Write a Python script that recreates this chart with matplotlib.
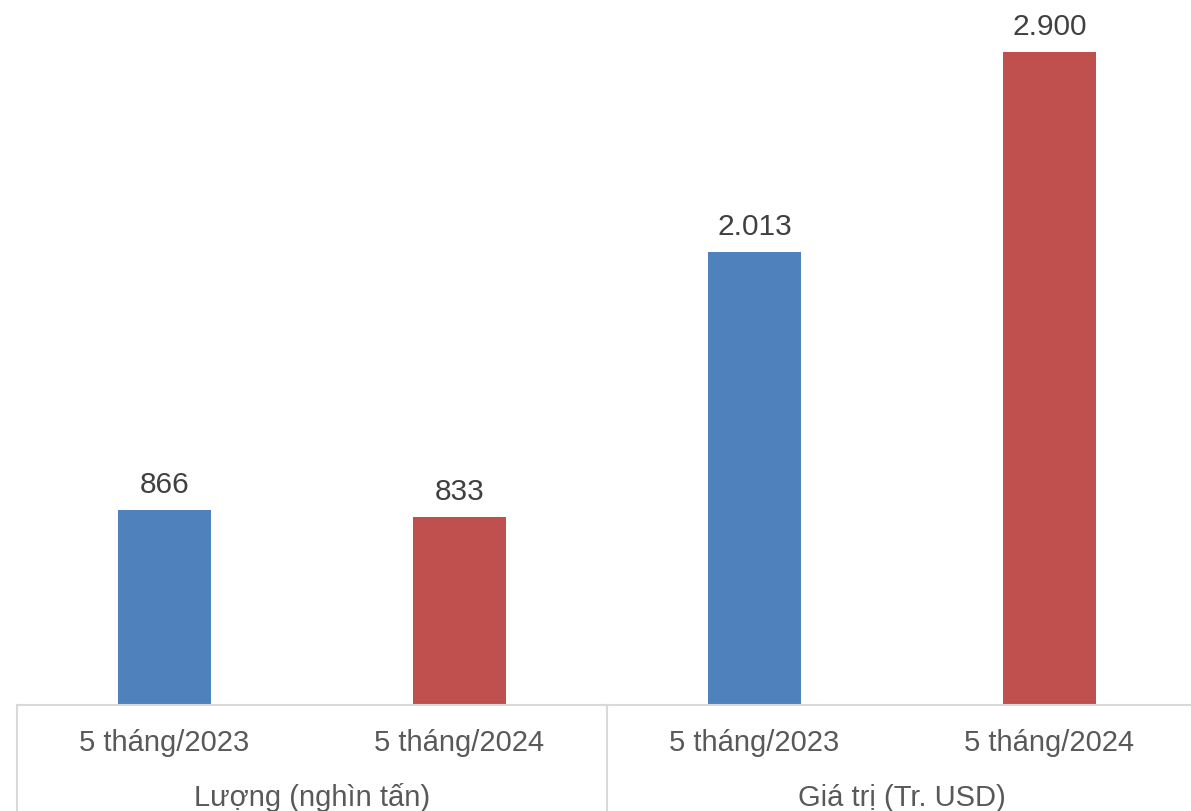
import matplotlib
matplotlib.use("Agg")
import matplotlib.pyplot as plt
import matplotlib.transforms as mtransforms
import numpy as np

plt.rcParams['font.family'] = ['Liberation Sans', 'DejaVu Sans']

periods = ["5 tháng/2023", "5 tháng/2024", "5 tháng/2023", "5 tháng/2024"]
groups = ["Lượng (nghìn tấn)", "Giá trị (Tr. USD)"]
values = [866, 833, 2013, 2900]
value_labels = ["866", "833", "2.013", "2.900"]
colors = ["#4F81BD", "#C0504D", "#4F81BD", "#C0504D"]

fig = plt.figure(figsize=(11.91, 8.11), dpi=100)
ax = fig.add_axes([17 / 1191, 106 / 811, 1180 / 1191, 705 / 811])

x = np.arange(len(values))
bars = ax.bar(x, values, width=0.315, color=colors)
ax.set_xlim(-0.5, 3.5)
ax.set_ylim(0, 3131)

for b, lab in zip(bars, value_labels):
    ax.annotate(lab, (b.get_x() + b.get_width() / 2, b.get_height()),
                xytext=(0, 8), textcoords="offset points",
                ha="center", va="bottom", fontsize=21.5, color="#404040")

for s in ["top", "right", "left"]:
    ax.spines[s].set_visible(False)
ax.spines["bottom"].set_color("#D9D9D9")
ax.spines["bottom"].set_linewidth(1.5)
ax.set_yticks([])
ax.set_xticks([])

trans = mtransforms.blended_transform_factory(ax.transData, ax.transAxes)
yb = -106 / 705
for xs in [-0.5, 1.5, 3.5]:
    ax.plot([xs, xs], [0, yb], transform=trans, color="#D9D9D9",
            lw=1.5, clip_on=False)

for xi, p in zip(x, periods):
    ax.text(xi, -38 / 705, p, transform=trans, ha="center", va="center",
            fontsize=21, color="#595959")
for gi, g in enumerate(groups):
    ax.text(gi * 2 + 0.5, -93 / 705, g, transform=trans, ha="center",
            va="center", fontsize=21, color="#595959")

fig.savefig("out.png", dpi=100)
